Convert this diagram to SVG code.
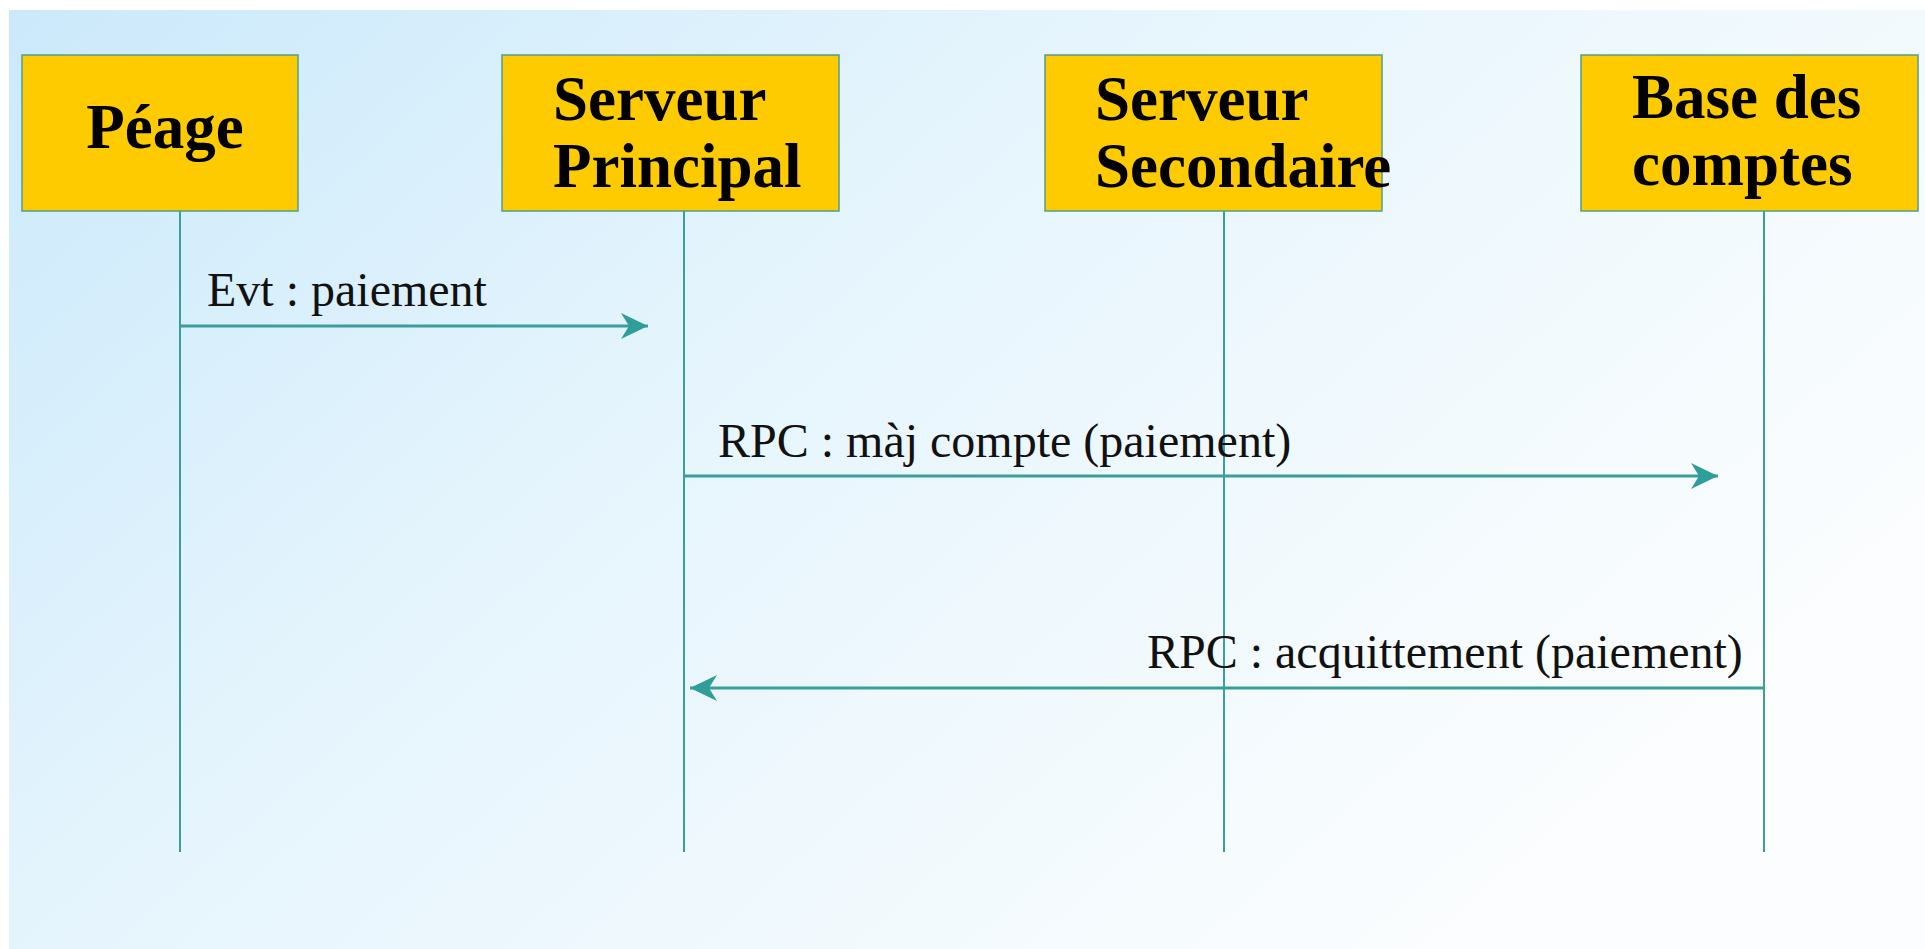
<svg xmlns="http://www.w3.org/2000/svg" width="1925" height="949" viewBox="0 0 1925 949">
  <defs>
    <linearGradient id="bg" x1="0" y1="0" x2="1" y2="0.55">
      <stop offset="0" stop-color="#cbe9fb"/>
      <stop offset="0.45" stop-color="#e6f5fd"/>
      <stop offset="1" stop-color="#fbfdfe"/>
    </linearGradient>
    <marker id="head" viewBox="0 0 27 26" markerWidth="27" markerHeight="26" refX="27" refY="13" orient="auto" markerUnits="userSpaceOnUse">
      <path d="M0,0 L27,13 L0,26 L8,13 Z" fill="#2f9e9b"/>
    </marker>
    <style>
      .box { fill: #fdcb00; stroke: #4f9f8c; stroke-width: 1.5; }
      .title { font-family: "Liberation Serif", "Times New Roman", serif; font-weight: bold; font-size: 63px; fill: #000; }
      .life { stroke: #3a9e9c; stroke-width: 2; fill: none; }
      .msg { stroke: #3a9e9c; stroke-width: 3; fill: none; marker-end: url(#head); }
      .label { font-family: "Liberation Serif", "Times New Roman", serif; font-size: 48px; fill: #111; }
    </style>
  </defs>

  <rect width="1925" height="949" fill="#ffffff"/>
  <rect x="9" y="10" width="1916" height="939" fill="url(#bg)"/>

  <!-- lifelines and their headers -->
  <g id="peage">
    <line class="life" x1="180" y1="211" x2="180" y2="852"/>
    <rect class="box" x="22" y="55" width="276" height="156"/>
    <text class="title" x="165" y="148" text-anchor="middle">Péage</text>
  </g>

  <g id="serveur-principal">
    <line class="life" x1="684" y1="211" x2="684" y2="852"/>
    <rect class="box" x="502" y="55" width="337" height="156"/>
    <text class="title" x="553" y="120">Serveur</text>
    <text class="title" x="553" y="187">Principal</text>
  </g>

  <g id="serveur-secondaire">
    <line class="life" x1="1224" y1="211" x2="1224" y2="852"/>
    <rect class="box" x="1045" y="55" width="337" height="156"/>
    <text class="title" x="1095" y="120">Serveur</text>
    <text class="title" x="1095" y="187">Secondaire</text>
  </g>

  <g id="base-des-comptes">
    <line class="life" x1="1764" y1="211" x2="1764" y2="852"/>
    <rect class="box" x="1581" y="55" width="337" height="156"/>
    <text class="title" x="1632" y="118">Base des</text>
    <text class="title" x="1632" y="185">comptes</text>
  </g>

  <!-- messages -->
  <g id="messages">
    <line class="msg" x1="180" y1="326" x2="648" y2="326"/>
    <text class="label" x="207" y="306">Evt : paiement</text>

    <line class="msg" x1="684" y1="476" x2="1718" y2="476"/>
    <text class="label" x="718" y="457">RPC : màj compte (paiement)</text>

    <line class="msg" x1="1764" y1="688" x2="690" y2="688"/>
    <text class="label" x="1147" y="668">RPC : acquittement (paiement)</text>
  </g>
</svg>
